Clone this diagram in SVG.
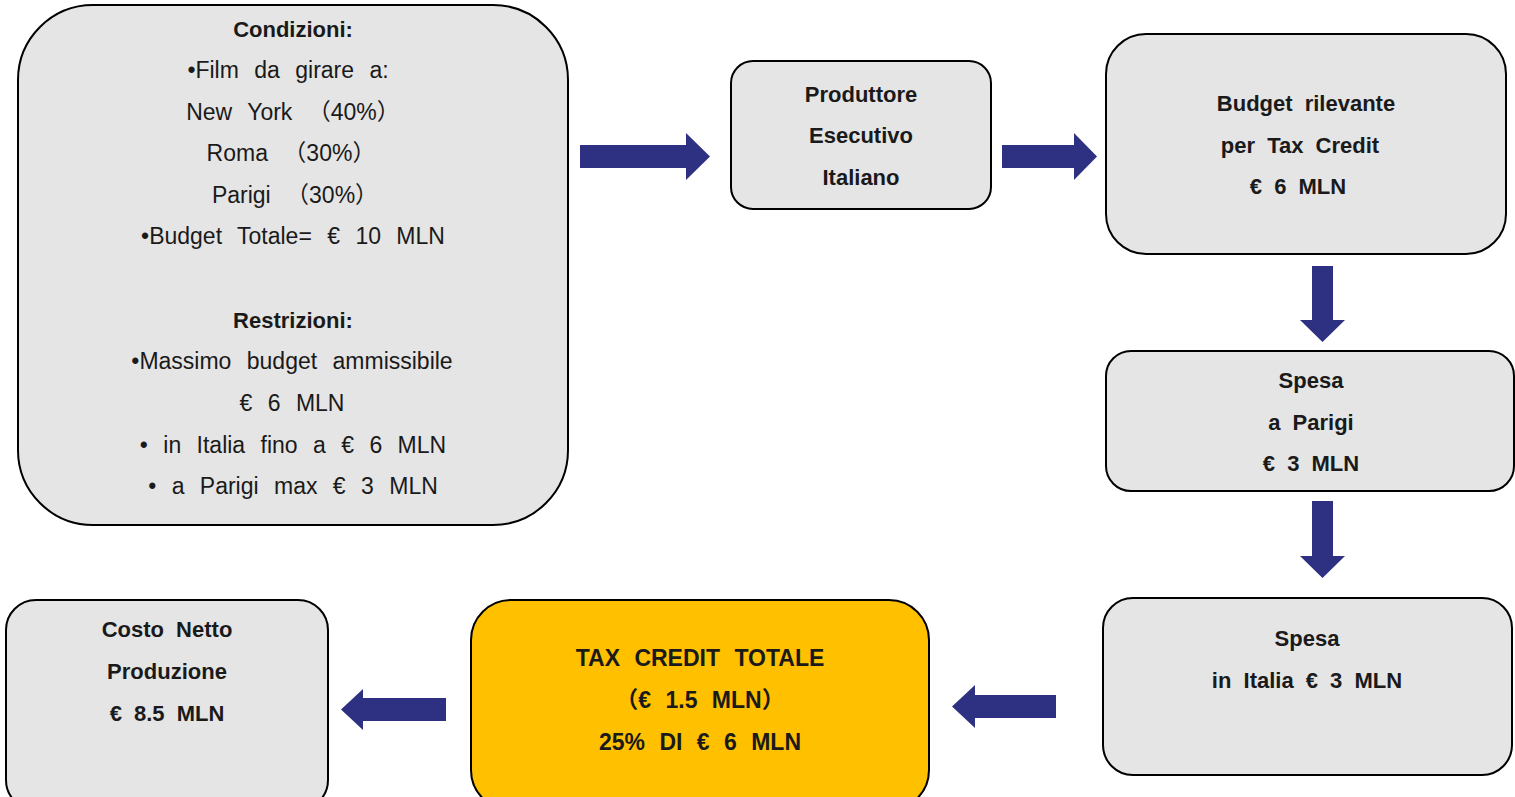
<svg xmlns="http://www.w3.org/2000/svg" width="1515" height="797" viewBox="0 0 1515 797">
<style>
.box{fill:#e5e5e5;stroke:#000;stroke-width:2}
.gold{fill:#ffc000;stroke:#000;stroke-width:2}
text{font-family:"Liberation Sans","Noto Sans CJK JP",sans-serif;font-size:23px;fill:#1a1a1a;text-anchor:middle;word-spacing:9px}
.b{font-weight:bold;font-size:22px;word-spacing:6px}
.t{font-weight:bold;font-size:23px;word-spacing:8px}
.arrow{fill:#2e3182}
</style>
<rect width="1515" height="797" fill="#fff"/>
<g id="condizioni">
<rect class="box" x="18" y="5" width="550" height="520" rx="75"/>
<text class="b" x="293" y="37">Condizioni:</text>
<text x="288" y="78">•Film da girare a:</text>
<text x="293" y="120">New York （40%）</text>
<text x="291" y="161">Roma   （30%）</text>
<text x="295" y="203">Parigi （30%）</text>
<text x="293" y="244">•Budget Totale= € 10 MLN</text>
<text class="b" x="293" y="328">Restrizioni:</text>
<text x="292" y="369">•Massimo budget ammissibile</text>
<text x="292" y="411">€ 6 MLN</text>
<text x="293" y="453">• in Italia fino a € 6 MLN</text>
<text x="293" y="494">• a Parigi max € 3 MLN</text>
</g>
<g id="produttore">
<rect class="box" x="731" y="61" width="260" height="148" rx="22"/>
<text class="b" x="861" y="102">Produttore</text>
<text class="b" x="861" y="143">Esecutivo</text>
<text class="b" x="861" y="185">Italiano</text>
</g>
<g id="budget">
<rect class="box" x="1106" y="34" width="400" height="220" rx="40"/>
<text class="b" x="1306" y="111">Budget rilevante</text>
<text class="b" x="1300" y="153">per Tax Credit</text>
<text class="b" x="1298" y="194">€ 6 MLN</text>
</g>
<g id="spesa-parigi">
<rect class="box" x="1106" y="351" width="408" height="140" rx="25"/>
<text class="b" x="1311" y="388">Spesa</text>
<text class="b" x="1311" y="430">a Parigi</text>
<text class="b" x="1311" y="471">€ 3 MLN</text>
</g>
<g id="spesa-italia">
<rect class="box" x="1103" y="598" width="409" height="177" rx="30"/>
<text class="b" x="1307" y="646">Spesa</text>
<text class="b" x="1307" y="688">in Italia € 3 MLN</text>
</g>
<g id="tax-credit">
<rect class="gold" x="471" y="600" width="458" height="210" rx="40"/>
<text class="t" x="700" y="666">TAX CREDIT TOTALE</text>
<text class="t" x="700" y="708">（€ 1.5 MLN）</text>
<text class="t" x="700" y="750">25% DI € 6 MLN</text>
</g>
<g id="costo-netto">
<rect class="box" x="6" y="600" width="322" height="210" rx="30"/>
<text class="b" x="167" y="637">Costo Netto</text>
<text class="b" x="167" y="679">Produzione</text>
<text class="b" x="167" y="721">€ 8.5 MLN</text>
</g>
<g id="connectors">
<polygon class="arrow" points="580,145 686,145 686,133 710,156.5 686,180 686,168 580,168"/>
<polygon class="arrow" points="1002,145 1074,145 1074,133 1097,156.5 1074,180 1074,168 1002,168"/>
<polygon class="arrow" points="1312,266 1333,266 1333,320 1345,320 1322.5,342 1300,320 1312,320"/>
<polygon class="arrow" points="1312,501 1333,501 1333,556 1345,556 1322.5,578 1300,556 1312,556"/>
<polygon class="arrow" points="1056,695 975,695 975,685 952,706.5 975,728 975,718 1056,718"/>
<polygon class="arrow" points="446,698 363,698 363,689 341,709.5 363,730 363,721 446,721"/>
</g>
</svg>
